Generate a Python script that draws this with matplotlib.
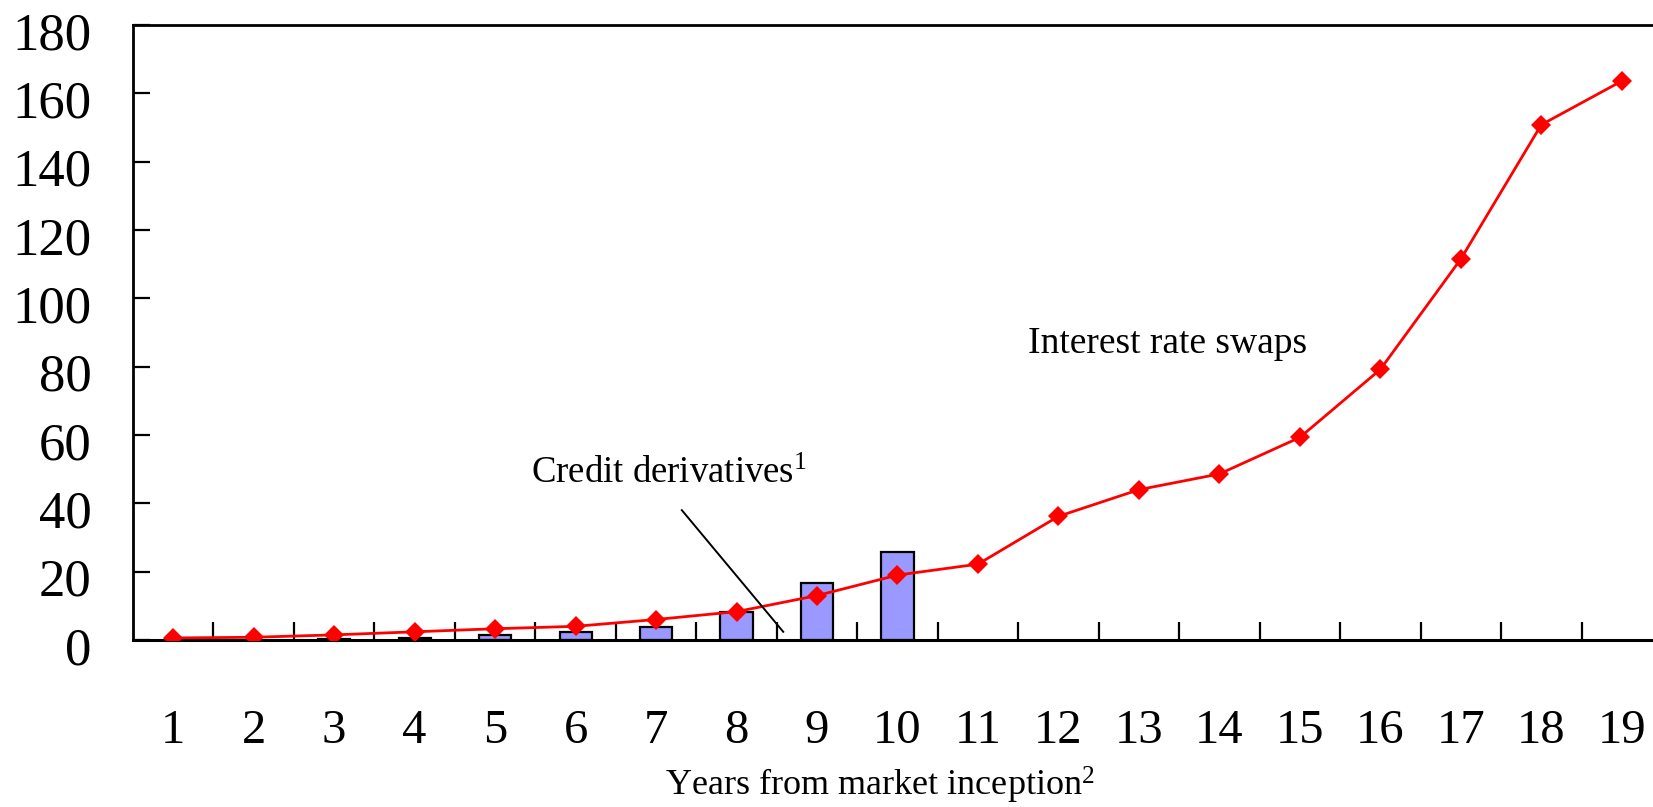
import numpy as np
import matplotlib.pyplot as plt
from matplotlib.transforms import ScaledTranslation

plt.rcParams['font.family'] = ['Liberation Serif', 'DejaVu Serif']
plt.rcParams['mathtext.fontset'] = 'custom'
plt.rcParams['mathtext.rm'] = 'Liberation Serif'
plt.rcParams['mathtext.it'] = 'Liberation Serif:italic'

# --- data ---
years = list(range(1, 20))
swaps = [0.6, 0.8, 1.5, 2.4, 3.3, 4.0, 6.0, 8.3, 13.0, 19.0, 22.2, 36.2,
         44.0, 48.6, 59.3, 79.2, 111.5, 150.8, 163.6]
credit_years = [3, 4, 5, 6, 7, 8, 9, 10]
credit = [0.4, 0.6, 1.5, 2.2, 3.8, 8.3, 16.8, 25.9]

W, H, DPI = 1653, 807, 100
fig = plt.figure(figsize=(W / DPI, H / DPI), dpi=DPI)
# axes runs a little past the right edge, as in the cropped original
ax = fig.add_axes([133 / W, 1 - 640 / H, (1662 - 133) / W, 615 / H])

ax.bar(credit_years, credit, width=0.4, color='#9999FF',
       edgecolor='black', linewidth=1.6, zorder=2)
ax.plot(years, swaps, color='#FF0000', linewidth=2, marker='D',
        markersize=10.5, markeredgewidth=0, zorder=3)

ax.set_xlim(0.5, 19.5)
ax.set_ylim(0, 180)

# category axis: labels at centres, tick marks between categories
ax.set_xticks(years)
ax.set_xticklabels([str(y) for y in years])
ax.set_xticks(np.arange(1.5, 19.5, 1), minor=True)
ax.tick_params(axis='x', which='major', length=0, pad=50, labelsize=35)
ax.tick_params(axis='x', which='minor', direction='in', length=13, width=1.6)

ax.set_yticks(range(0, 181, 20))
ax.tick_params(axis='y', direction='in', length=12, width=1.6, pad=30,
               labelsize=38)
for lab in ax.get_yticklabels():
    lab.set_transform(lab.get_transform() +
                      ScaledTranslation(0, -4 / 72, fig.dpi_scale_trans))

for s in ['left', 'top']:
    ax.spines[s].set_linewidth(2)
ax.spines['bottom'].set_linewidth(2.2)
ax.spines['right'].set_visible(False)

ax.set_xlabel(r'Years from market inception$^{\mathrm{2}}$', fontsize=26)
ax.xaxis.set_label_coords((880 - 133) / (1662 - 133), -(785 - 640) / 615)
ax.xaxis.label.set_va('center')

ax.text(5.45, 45.9, r'Credit derivatives$^{\mathrm{1}}$', fontsize=26.5,
        ha='left', va='baseline')
ax.plot([7.32, 8.58], [38, 2.4], color='black', linewidth=1.4, zorder=4)

ax.text(13.36, 86.8, 'Interest rate swaps', fontsize=27,
        ha='center', va='center')

fig.savefig('out.png', dpi=DPI)
